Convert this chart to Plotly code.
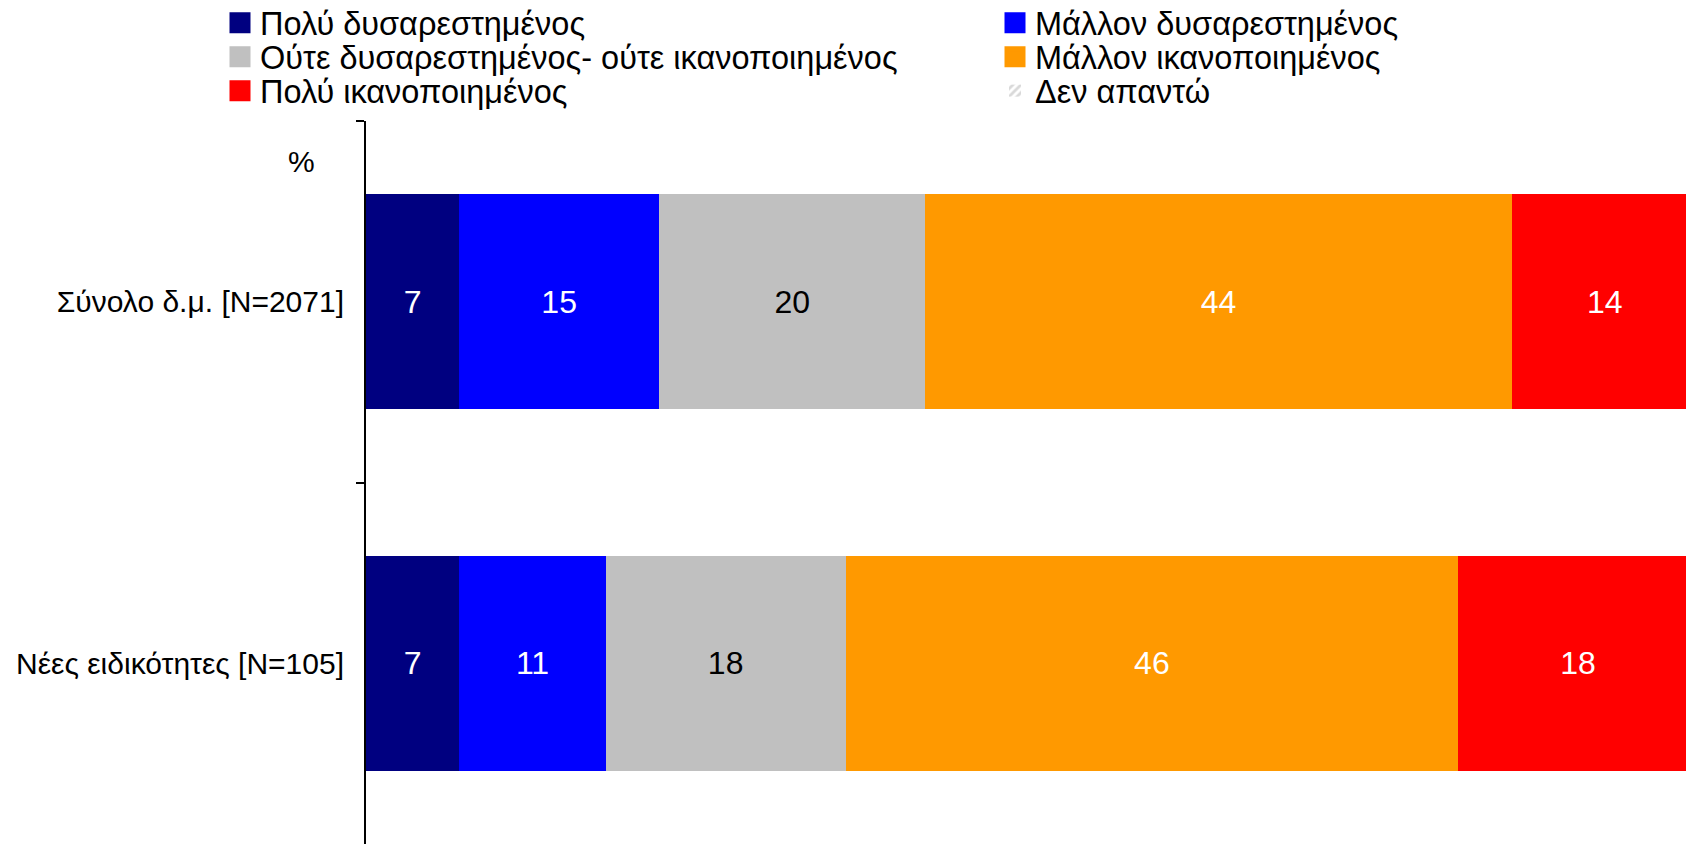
import plotly.graph_objects as go

categories = ["Σύνολο δ.μ. [N=2071]", "Νέες ειδικότητες [N=105]"]
series_names = ["Πολύ δυσαρεστημένος", "Μάλλον δυσαρεστημένος",
                "Ούτε δυσαρεστημένος- ούτε ικανοποιημένος", "Μάλλον ικανοποιημένος",
                "Πολύ ικανοποιημένος"]
very_dissatisfied = [7, 7]
rather_dissatisfied = [15, 11]
neutral = [20, 18]
rather_satisfied = [44, 46]
very_satisfied = [14, 18]
no_answer = [0, 0]
no_answer_name = "Δεν απαντώ"

values = [very_dissatisfied, rather_dissatisfied, neutral, rather_satisfied, very_satisfied]
colors = ["#000080", "#0000FF", "#C0C0C0", "#FF9900", "#FF0000"]
text_colors = ["white", "white", "black", "white", "white"]

FONT = "Liberation Sans, Arial, sans-serif"
W, H = 1686, 844
fig = go.Figure()

for name, vals, col, tc in zip(series_names, values, colors, text_colors):
    fig.add_trace(go.Bar(
        y=categories, x=vals, orientation="h", name=name,
        marker=dict(color=col, line=dict(width=0)),
        text=vals, texttemplate="%{text}", textposition="inside",
        insidetextanchor="middle", textangle=0,
        insidetextfont=dict(color=tc, size=32, family=FONT),
        showlegend=False, hoverinfo="skip",
    ))

fig.add_trace(go.Bar(
    y=categories, x=no_answer, orientation="h", name=no_answer_name,
    marker=dict(color="white", line=dict(width=0),
                pattern=dict(shape="/", fgcolor="#C8C8C8", bgcolor="white", size=8, solidity=0.4)),
    showlegend=False, hoverinfo="skip",
))

# legend: one legend per entry, placed in a 2-column, 3-row grid
col_x = [220, 995]
row_y = [23, 57, 91]
legend_ids = ["legend", "legend2", "legend3", "legend4", "legend5", "legend6"]
for i, (name, col) in enumerate(zip(series_names, colors)):
    fig.add_trace(go.Scatter(
        x=[None], y=[None], mode="markers", name=name,
        marker=dict(symbol="square", size=16, color=col, line=dict(width=5, color=col)),
        showlegend=True, hoverinfo="skip", legend=legend_ids[i],
    ))
fig.add_trace(go.Bar(
    y=[None], x=[None], orientation="h", name=no_answer_name,
    marker=dict(color="white", line=dict(width=0),
                pattern=dict(shape="/", fgcolor="#B4B4B4", bgcolor="white", size=7, solidity=0.5)),
    showlegend=True, hoverinfo="skip", legend=legend_ids[5],
))

layout_legends = {}
for i, lid in enumerate(legend_ids):
    r, c = divmod(i, 2)
    layout_legends[lid] = dict(
        orientation="v", xref="container", yref="container",
        x=col_x[c] / W, y=1 - row_y[r] / H, xanchor="left", yanchor="middle",
        font=dict(size=32.5, family=FONT, color="black"),
        itemsizing="trace", bgcolor="rgba(0,0,0,0)", borderwidth=0,
    )

fig.update_layout(
    width=W, height=H,
    barmode="stack", bargap=0.405,
    plot_bgcolor="white", paper_bgcolor="white",
    margin=dict(l=366, r=0, t=121, b=0, autoexpand=False),
    font=dict(family=FONT, color="black", size=30),
    # the right end of the 100% bars runs slightly past the page edge, as in the source
    xaxis=dict(range=[0, 99.1], visible=False, fixedrange=True),
    yaxis=dict(
        type="category", categoryorder="array", categoryarray=categories,
        range=[1.5, -0.5], showline=True, linecolor="black", linewidth=2,
        ticks="outside", tickson="boundaries", ticklen=8, tickwidth=2, tickcolor="black",
        tickfont=dict(size=30, family=FONT, color="black"), ticklabelstandoff=14,
        showgrid=False, zeroline=False, fixedrange=True, automargin=False,
    ),
    annotations=[dict(
        text="%", x=(301 - 366) / 1320, y=1 - (161 - 121) / 723,
        xref="paper", yref="paper", xanchor="center", yanchor="middle", showarrow=False,
        font=dict(size=30, family=FONT, color="black"),
    )],
    **layout_legends,
)

fig.write_html("out.html", config={"displayModeBar": False},
               post_script="document.body.style.margin='0px';document.body.style.overflow='hidden';")
